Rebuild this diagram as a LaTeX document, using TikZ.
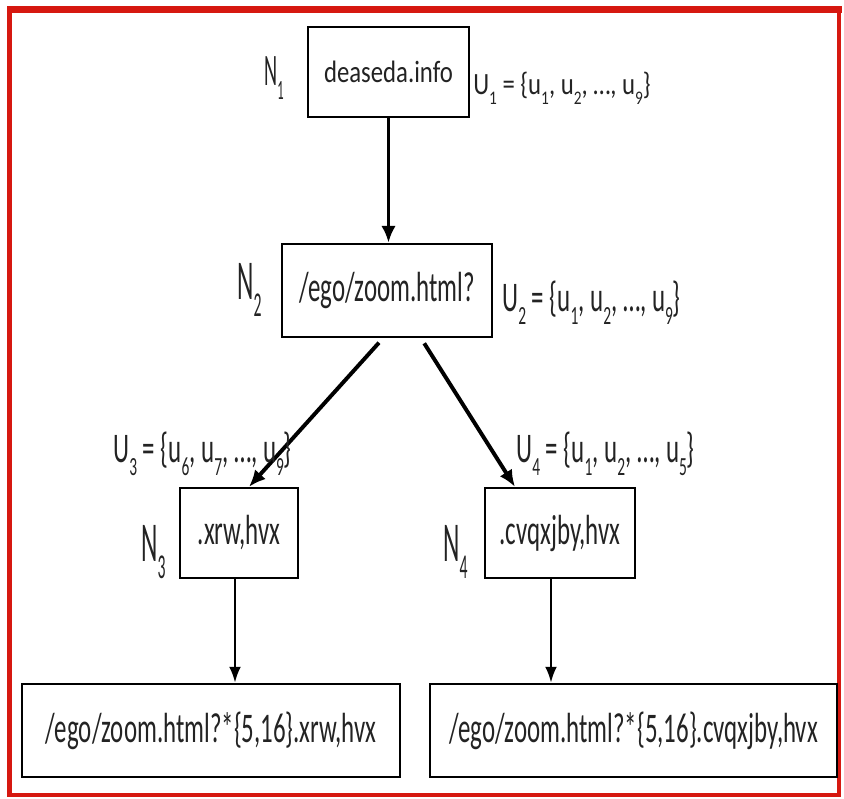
\documentclass[tikz,border=0pt]{standalone}
\usepackage{fontspec}
\usepackage{graphicx}
\setmainfont{Carlito}
\newfontfamily\boxfont[FakeStretch=0.59]{Carlito}
\newfontfamily\topfont[FakeStretch=0.8]{Carlito}
\newfontfamily\nfont[FakeStretch=0.45]{Carlito}
\definecolor{framered}{RGB}{214,24,16}
\definecolor{inkgray}{RGB}{35,35,35}
\usetikzlibrary{arrows.meta}
\newcommand{\dn}[1]{\raisebox{-0.3em}{\scalebox{0.62}{#1}}}
\tikzset{
  urlbox/.style={draw=black, line width=1.6pt, minimum height=2.33cm, inner sep=0pt, align=center, text=inkgray, font=\boxfont\fontsize{30}{32}\selectfont},
  flow/.style={-{Latex[length=0.42cm,width=0.36cm]}, line width=2.8pt},
  thinflow/.style={-{Latex[length=0.4cm,width=0.3cm]}, line width=1.8pt},
  nlabel/.style={anchor=base west, inner sep=0pt, text=inkgray, font=\nfont\fontsize{40}{40}\selectfont},
  ulabel/.style={anchor=base west, inner sep=0pt, text=inkgray, font=\boxfont\fontsize{30}{30}\selectfont}
}

\begin{document}
\begin{tikzpicture}[x=0.025cm, y=-0.025cm]
  \useasboundingbox (0,0) rectangle (844,799);

  %% Frame
  \draw[framered, line width=3pt] (9.5,9.5) rectangle (839,795);
  \draw[framered, line width=5pt] (7,9.5) -- (842,9.5);

  %% Boxes
  \node[urlbox, minimum width=4.03cm, minimum height=2.25cm, font=\topfont\fontsize{22}{24}\selectfont] (n1) at (388.5,72) {deaseda.info};
  \node[urlbox, minimum width=5.25cm] (n2) at (387,290.5) {/ego/zoom.html?};
  \node[urlbox, minimum width=2.95cm, minimum height=2.25cm] (n3) at (239,533) {.xrw,hvx};
  \node[urlbox, minimum width=3.75cm, minimum height=2.25cm] (n4) at (560,533) {.cvqxjby,hvx};
  \node[urlbox, minimum width=9.45cm] (b3) at (211,730.5) {/ego/zoom.html?*\{5,16\}.xrw,hvx};
  \node[urlbox, minimum width=10.18cm] (b4) at (633.5,730.5) {/ego/zoom.html?*\{5,16\}.cvqxjby,hvx};

  %% Arrows
  \draw[flow] (n1.south) -- (n1.south |- n2.north);
  \draw[flow, shorten <=0.15cm] ([xshift=-0.1cm]n2.south) -- ([xshift=0.25cm]n3.north);
  \draw[flow, shorten <=0.15cm] ([xshift=0.85cm]n2.south) -- ([xshift=-1.125cm]n4.north);
  \draw[thinflow] ([xshift=-0.1cm]n3.south) -- ([xshift=-0.1cm]n3.south |- b3.north);
  \draw[thinflow] ([xshift=-0.225cm]n4.south) -- ([xshift=-0.225cm]n4.south |- b4.north);

  %% Node names
  \node[nlabel, font=\nfont\fontsize{32}{32}\selectfont] (n1lbl) at (264,86) {N\dn{1}};
  \node[nlabel] (n2lbl) at (237,300) {N\dn{2}};
  \node[nlabel] (n3lbl) at (141,562) {N\dn{3}};
  \node[nlabel] (n4lbl) at (443,562) {N\dn{4}};

  %% User sets
  \node[ulabel, font=\topfont\fontsize{22}{22}\selectfont] (u1) at (473,95) {U\dn{1} = \{u\dn{1}, u\dn{2}, …, u\dn{9}\}};
  \node[ulabel] (u2) at (502,312) {U\dn{2} = \{u\dn{1}, u\dn{2}, …, u\dn{9}\}};
  \node[ulabel] (u3) at (113,463) {U\dn{3} = \{u\dn{6}, u\dn{7}, …, u\dn{9}\}};
  \node[ulabel] (u4) at (516,463) {U\dn{4} = \{u\dn{1}, u\dn{2}, …, u\dn{5}\}};
\end{tikzpicture}
\end{document}
